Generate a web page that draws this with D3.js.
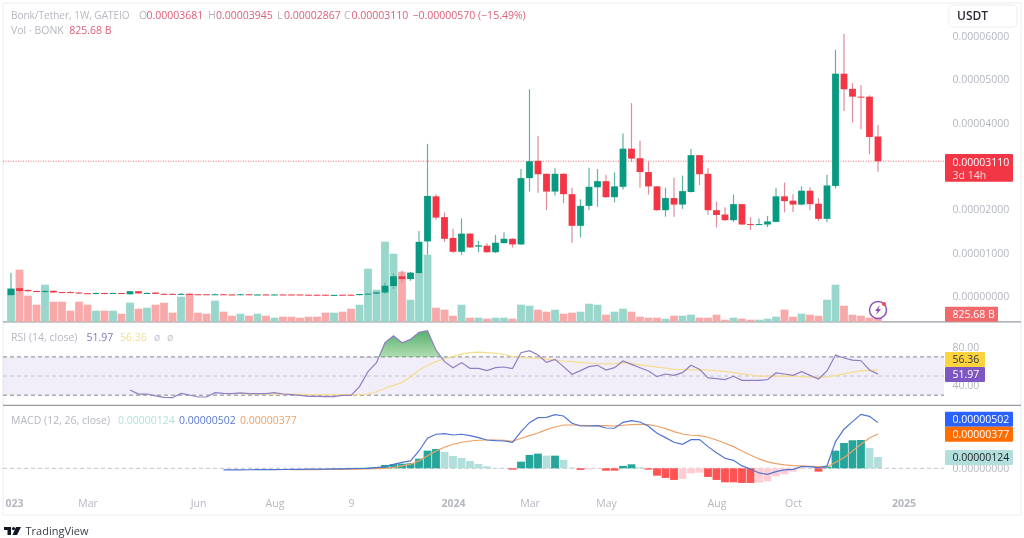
<!DOCTYPE html>
<html>
<head>
<meta charset="utf-8">
<script src="https://cdn.jsdelivr.net/npm/d3@7"></script>
<style>
  html, body { margin: 0; padding: 0; background: #fff; }
  svg { display: block; filter: blur(0.35px); }
  text { font-family: "Open Sans", "Noto Sans", sans-serif; font-size: 10.5px; }
</style>
</head>
<body>
<div id="chart"></div>
<script>
// prices are in units of 0.00001 USDT, index 0 is the first weekly candle
var openValues = [
  .02,.18,.14,.115,.10,.12,.09,.09,.08,.065,.05,.07,.055,.07,.04,.11,.06,.08,.05,.05,
  .04,.05,.04,.04,.03,.04,.035,.03,.04,.03,.035,.03,.035,.035,.035,.03,.03,.03,.015,.03,
  .03,.02,.045,.055,.08,.23,.455,.39,.53,1.26,2.3,1.82,1.34,1.02,1.44,1.14,1.16,1.01,1.22,1.32,
  1.19,2.72,3.12,2.82,2.41,2.82,2.35,1.62,2.08,2.51,2.65,2.28,2.52,3.4,3.18,2.86,2.53,1.98,2.26,2.11,
  2.4,3.25,2.82,1.98,1.88,1.75,2.12,1.66,1.65,1.65,1.71,2.3,2.2,2.11,2.43,2.13,1.78,2.54,5.13,4.78,
  4.6,4.6,3.681
];
var highValues = [
  .53,.20,.15,.125,.13,.13,.10,.105,.085,.07,.08,.075,.075,.075,.115,.115,.08,.085,.055,.055,
  .07,.055,.045,.045,.05,.045,.04,.05,.042,.04,.038,.04,.037,.037,.036,.032,.032,.032,.028,.032,
  .032,.05,.06,.095,.31,.52,.58,.56,1.5,3.51,2.35,1.93,1.55,1.79,1.45,1.27,1.22,1.41,1.47,1.33,
  2.93,4.77,3.69,2.83,2.95,2.83,2.5,2.23,2.96,2.93,2.8,2.85,3.75,4.45,3.58,3.1,2.54,2.5,2.73,2.78,
  3.39,3.26,2.95,2.18,2.05,2.34,2.13,1.82,1.79,1.85,2.49,2.62,2.35,2.53,2.51,2.26,2.8,5.68,6.05,4.91,
  4.87,4.63,3.945
];
var lowValues = [
  .01,.07,.10,.095,.08,.07,.07,.07,.05,.05,.04,.04,.05,.055,.035,.055,.05,.045,.035,.035,
  .03,.03,.03,.025,.025,.025,.02,.02,.025,.025,.025,.025,.025,.025,.025,.015,.015,.015,.01,.015,
  .012,.015,.04,.05,.06,.16,.32,.35,.52,.95,1.76,1.25,1.0,.95,1.11,1.01,1.0,.99,1.21,1.12,
  1.18,2.41,2.38,1.98,2.32,2.14,1.23,1.35,1.98,2.06,2.27,2.16,2.46,3.09,2.5,2.34,1.97,1.83,1.83,2.01,
  2.39,2.56,1.87,1.58,1.73,1.71,1.64,1.52,1.64,1.59,1.7,1.93,1.94,2.09,1.98,1.73,1.71,2.48,4.27,4.0,
  3.85,3.27,2.867
];
var closeValues = [
  .17,.115,.11,.10,.115,.08,.08,.08,.06,.055,.07,.05,.07,.06,.11,.06,.07,.05,.04,.045,
  .05,.04,.035,.035,.04,.035,.03,.04,.03,.035,.03,.035,.03,.03,.03,.02,.02,.02,.025,.02,
  .016,.045,.055,.085,.238,.455,.39,.54,1.25,2.31,1.81,1.32,1.02,1.44,1.12,1.17,1.01,1.23,1.32,1.19,
  2.72,3.11,2.81,2.41,2.82,2.35,1.62,2.08,2.52,2.65,2.28,2.53,3.4,3.17,2.86,2.53,1.98,2.26,2.11,2.42,
  3.25,2.81,1.98,1.87,1.75,2.12,1.65,1.65,1.66,1.72,2.3,2.19,2.11,2.43,2.12,1.78,2.55,5.13,4.77,4.6,
  4.58,3.67,3.11
];
// volume in billions of BONK
var volumeValues = [
  8250,13000,6500,4250,9250,5000,5000,2750,5000,4250,2750,2750,2750,2000,4750,3250,3500,4250,4750,2250,
  6250,7000,2250,2000,5250,2500,1500,2000,1500,2000,1500,1000,1250,1250,1000,1250,1250,2250,2250,2500,
  3250,4250,13250,8000,20000,17000,12500,5500,12250,16750,3500,3000,1500,4250,1000,1000,750,1000,1000,750,
  4250,4000,3000,2500,3000,2000,2250,2500,4500,4250,1750,2500,3250,2500,1250,1000,1000,750,1500,1500,
  1750,1000,1000,1750,500,1000,750,500,500,750,1250,3000,1250,2000,1750,1500,5500,9250,4000,1750,
  1500,1000,825.68
];
// RSI starts at candle 14, its moving average at candle 27
var rsiValues = [
  35.4,31.2,31.2,29.2,27.8,27.4,31.9,30.2,28.1,28.1,32.6,31.9,31.6,32.3,31.6,31.6,31.6,32.6,31.2,30.5,
  29.8,28.8,28.8,28.5,28.5,29.8,29.8,38.9,54.6,64,84.8,92.1,84.8,88.3,95.6,97.4,77.2,65,58.7,64,
  58,58,55.6,58.7,59.4,57.7,74.4,76.5,72,64.3,67.4,59.8,51.8,55.6,59.8,61.2,56.3,58.7,65.7,62.2,
  58.7,55.3,49.3,52.1,50.7,53.5,61.2,57,48,47.3,46.2,49.7,45.5,45.5,45.5,46.2,53.2,52.1,50.7,54.6,
  50.7,46.9,55.3,72,68.8,66.7,66,56.3,51.97
];
var rsiMaValues = [
  31.4,31.3,31.3,31.2,31.1,31,30.9,30.8,30.6,30.5,30.4,30.3,30.3,30.3,30.5,31.2,33.6,37.2,40.2,43.4,
  49,56.3,61,65,68,70.6,72.8,74.4,74.9,74.4,73.8,72.7,70.2,69.5,69,68.5,67.6,66.6,65.7,65,
  64.3,63.6,63,62.6,62.8,64,63,61.7,60.5,59.3,58.2,57,56.8,56.5,56.4,56.3,55.4,54.8,53.5,52.3,
  51.1,50,50,50,50,50,49.4,48.9,48.3,49.2,50.4,52.2,53.9,55.6,56,56.36
];
// MACD starts at candle 25, signal at candle 33, units of 0.000001
var macdValues = [
  -.18,-.18,-.17,-.16,-.15,-.15,-.14,-.13,-.12,-.11,-.1,-.09,-.08,-.07,-.06,-.04,-.02,0,.07,.18,
  .44,.66,.81,1.9,3.3,3.74,3.81,3.66,3.74,3.59,3.37,3.11,3.04,3,2.86,4.03,5.02,5.57,5.6,5.9,
  5.75,4.95,4.65,4.65,4.69,4.43,4.4,5.05,5.24,5.09,4.62,3.85,3.37,2.86,2.64,3.15,3.15,2.38,1.72,1.1,
  .88,.26,-.07,-.51,-.66,-.37,-.18,-.11,.18,.18,.04,.26,2.93,4.29,5.13,5.93,5.71,5.02
];
var signalValues = [
  -.15,-.15,-.14,-.14,-.13,-.12,-.11,-.1,-.08,-.06,-.04,0,.1,.26,.44,.81,1.39,1.9,
  2.31,2.64,2.86,3,3.08,3.11,3.11,3.08,2.97,3.3,3.59,3.88,4.25,4.54,4.76,4.76,4.73,4.69,4.69,4.69,
  4.65,4.73,4.8,4.84,4.8,4.62,4.36,4.03,3.77,3.63,3.59,3.41,3.11,2.75,2.38,1.9,1.47,1.03,.7,.51,
  .37,.29,.26,.22,.18,.15,.66,1.17,1.9,2.64,3.33,3.77
];
// histogram starts at candle 38
var histValues = [
  .02,.03,.04,.05,.08,.15,.37,.46,.51,.55,1.06,1.94,2.12,1.79,1.36,1.14,.81,.48,.22,.04,
  .02,-.15,.73,1.47,1.61,1.39,1.39,.92,.07,-.18,-.11,-.04,-.26,-.26,.26,.44,.11,-.15,-.81,-1.06,
  -1.28,-1.17,-.55,-.48,-.95,-1.28,-1.54,-1.54,-1.61,-1.61,-1.58,-1.43,-.88,-.66,-.37,-.07,-.02,-.37,.18,1.94,
  2.78,3.08,3.11,2.23,1.24
];
var priceTicks = [0, 1, 2, 3, 4, 5, 6];
var rsiTicks = [40, 80];
var rsiBands = [70, 50, 30];
var timeTickIndex = [0, 9, 22, 31, 40, 52, 61, 70, 83, 92, 105];
var timeTickLabels = ["2023", "Mar", "Jun", "Aug", "9", "2024", "Mar", "May", "Aug", "Oct", "2025"];
var boldTicks = ["2023", "2024", "2025"];
var rsiStart = 14, rsiMaStart = 27, macdStart = 25, signalStart = 33, histStart = 38;

var width = 1024, height = 538;
var plotLeft = 3, plotRight = 944, frameRight = 1021, frameBottom = 515;
var up = "#089981", down = "#f23645", axisGray = "#b4b7c0";

var svg = d3.select("#chart").append("svg").attr("width", width).attr("height", height);

var defs = svg.append("defs");
defs.append("clipPath").attr("id", "rsi-top-clip").append("rect")
  .attr("x", plotLeft).attr("y", 322).attr("width", plotRight - plotLeft).attr("height", 35.4);
var rsiGrad = defs.append("linearGradient").attr("id", "rsi-grad").attr("x1", 0).attr("x2", 0).attr("y1", 0).attr("y2", 1);
rsiGrad.append("stop").attr("offset", "0%").attr("stop-color", "#3fa55a").attr("stop-opacity", 0.9);
rsiGrad.append("stop").attr("offset", "50%").attr("stop-color", "#4caf50").attr("stop-opacity", 0.4);
rsiGrad.append("stop").attr("offset", "100%").attr("stop-color", "#4caf50").attr("stop-opacity", 0);

// scales, the x one is per candle
var x = d3.scaleLinear().domain([0, 102]).range([11, 878]);
var y = d3.scaleLinear().domain([0, 6]).range([296, 36]);
var yVol = d3.scaleLinear().domain([0, 20000]).range([321.7, 241.7]);
var yRsi = d3.scaleLinear().domain([40, 80]).range([385.6, 347.3]);
var yMacd = d3.scaleLinear().domain([0, 5]).range([468.3, 422.8]);

// frame and pane separators
svg.append("rect").attr("x", plotLeft).attr("y", 3).attr("width", frameRight - plotLeft).attr("height", frameBottom - 3)
  .attr("fill", "none").attr("stroke", "#eceef2");
svg.selectAll("line.sep").data([321.8, 405.3]).enter().append("line")
  .attr("class", "sep").attr("x1", plotLeft).attr("x2", frameRight)
  .attr("y1", function(d) { return d; }).attr("y2", function(d) { return d; })
  .attr("stroke", "#9a9ca3").attr("stroke-width", 1.2);

// volume
var indexes = d3.range(volumeValues.length);
svg.append("g").selectAll("rect").data(indexes).enter().append("rect")
  .attr("x", function(i) { return x(i) - 3.9; })
  .attr("width", 7.8)
  .attr("y", function(i) { return yVol(volumeValues[i]); })
  .attr("height", function(i) { return yVol(0) - yVol(volumeValues[i]); })
  .attr("fill", function(i) { return closeValues[i] >= openValues[i] ? "#99d6cb" : "#f7aaa9"; });

// last price line
svg.append("line").attr("x1", plotLeft).attr("x2", plotRight)
  .attr("y1", y(closeValues[102])).attr("y2", y(closeValues[102]))
  .attr("stroke", down).attr("stroke-opacity", 0.75).attr("stroke-dasharray", "1 1.5");

// candles
var candles = svg.append("g").selectAll("g").data(indexes).enter().append("g");
candles.append("line")
  .attr("x1", function(i) { return x(i); }).attr("x2", function(i) { return x(i); })
  .attr("y1", function(i) { return y(highValues[i]); })
  .attr("y2", function(i) { return y(lowValues[i]); })
  .attr("stroke-width", 1.2)
  .attr("stroke", function(i) { return closeValues[i] >= openValues[i] ? "#5fb3a3" : "#de8d9b"; });
candles.append("rect")
  .attr("x", function(i) { return x(i) - 3.4; })
  .attr("width", 6.8)
  .attr("y", function(i) { return y(Math.max(openValues[i], closeValues[i])); })
  .attr("height", function(i) { return Math.max(1, Math.abs(y(openValues[i]) - y(closeValues[i]))); })
  .attr("fill", function(i) { return closeValues[i] >= openValues[i] ? up : down; });

// price axis
var priceFormat = d3.format(".8f");
var priceAxis = d3.axisRight(y).tickValues(priceTicks).tickSize(0).tickPadding(0)
  .tickFormat(function(d) { return priceFormat(d / 100000); });
var priceG = svg.append("g").attr("transform", "translate(952.5,0)").call(priceAxis);
priceG.select(".domain").remove();
priceG.selectAll("text").attr("fill", axisGray);

// RSI pane
svg.append("rect").attr("x", plotLeft).attr("width", plotRight - plotLeft)
  .attr("y", yRsi(70)).attr("height", yRsi(30) - yRsi(70)).attr("fill", "#7e57c2").attr("fill-opacity", 0.1);
svg.selectAll("line.band").data(rsiBands).enter().append("line")
  .attr("class", "band").attr("x1", plotLeft).attr("x2", plotRight)
  .attr("y1", function(d) { return yRsi(d); }).attr("y2", function(d) { return yRsi(d); })
  .attr("stroke", function(d) { return d === 50 ? "#c4c4cc" : "#85858f"; })
  .attr("stroke-dasharray", "4 3");

var rsiX = function(d, i) { return x(i + rsiStart); };
svg.append("path").datum(rsiValues.slice(27, 39))
  .attr("clip-path", "url(#rsi-top-clip)")
  .attr("fill", "url(#rsi-grad)")
  .attr("d", d3.area()
    .x(function(d, i) { return x(i + rsiStart + 27); })
    .y0(yRsi(70))
    .y1(function(d) { return yRsi(d); }));
svg.append("path").datum(rsiMaValues).attr("fill", "none").attr("stroke", "#f5dd8c").attr("stroke-width", 1.2)
  .attr("d", d3.line().x(function(d, i) { return x(i + rsiMaStart); }).y(function(d) { return yRsi(d); }));
svg.append("path").datum(rsiValues).attr("fill", "none").attr("stroke", "#8f7fc2").attr("stroke-width", 1.2)
  .attr("d", d3.line().x(rsiX).y(function(d) { return yRsi(d); }));

var rsiAxis = d3.axisRight(yRsi).tickValues(rsiTicks).tickSize(0).tickPadding(0).tickFormat(d3.format(".2f"));
var rsiG = svg.append("g").attr("transform", "translate(952.5,0)").call(rsiAxis);
rsiG.select(".domain").remove();
rsiG.selectAll("text").attr("fill", axisGray);

// MACD pane
svg.append("line").attr("x1", plotLeft).attr("x2", plotRight).attr("y1", yMacd(0)).attr("y2", yMacd(0))
  .attr("stroke", "#c4c4cc").attr("stroke-dasharray", "4 3");
svg.append("g").selectAll("rect").data(histValues).enter().append("rect")
  .attr("x", function(d, i) { return x(i + histStart) - 3.9; })
  .attr("width", 7.8)
  .attr("y", function(d) { return yMacd(Math.max(d, 0)); })
  .attr("height", function(d) { return Math.abs(yMacd(d) - yMacd(0)); })
  .attr("fill", function(d, i) {
    var prev = i > 0 ? histValues[i - 1] : 0;
    if (d >= 0) return d >= prev ? "#26a69a" : "#b2dfdb";
    return d <= prev ? "#ff5252" : "#ffcdd2";
  });
svg.append("path").datum(signalValues).attr("fill", "none").attr("stroke", "#eda066").attr("stroke-width", 1.2)
  .attr("d", d3.line().x(function(d, i) { return x(i + signalStart); }).y(function(d) { return yMacd(d); }));
svg.append("path").datum(macdValues).attr("fill", "none").attr("stroke", "#4f74cf").attr("stroke-width", 1.2)
  .attr("d", d3.line().x(function(d, i) { return x(i + macdStart); }).y(function(d) { return yMacd(d); }));

var macdG = svg.append("g").attr("transform", "translate(952.5,0)")
  .call(d3.axisRight(yMacd).tickValues([0]).tickSize(0).tickPadding(0).tickFormat(function() { return "0.00000000"; }));
macdG.select(".domain").remove();
macdG.selectAll("text").attr("fill", axisGray);

// time axis
defs.append("clipPath").attr("id", "time-clip").append("rect")
  .attr("x", 5).attr("y", -10).attr("width", 1000).attr("height", 40);
var timeG = svg.append("g").attr("transform", "translate(0,499.5)").attr("clip-path", "url(#time-clip)")
  .call(d3.axisBottom(x).tickValues(timeTickIndex).tickSize(0).tickPadding(0)
    .tickFormat(function(d) { return timeTickLabels[timeTickIndex.indexOf(d)]; }));
timeG.select(".domain").remove();
timeG.selectAll("text").attr("fill", axisGray)
  .style("font-weight", function() { return boldTicks.indexOf(this.textContent) >= 0 ? "700" : "400"; });

// coloured value tags on the right
function tag(x0, y0, w, h, fill, label, color) {
  svg.append("rect").attr("x", x0).attr("y", y0).attr("width", w).attr("height", h).attr("rx", 1).attr("fill", fill);
  svg.append("text").attr("x", 952.5).attr("y", y0 + h / 2 + 3.7).attr("fill", color).text(label);
}
tag(945, 306.7, 53, 15, "#f1696b", "825.68 B", "#fff");
tag(945, 352, 40, 15, "#fbd33d", "56.36", "#33333a");
tag(945, 367, 40, 15, "#7e57c2", "51.97", "#fff");
tag(945, 411.7, 68, 15, "#2962ff", "0.00000502", "#fff");
tag(945, 426.7, 68, 15, "#ff6d00", "0.00000377", "#fff");
tag(945, 450, 68, 15, "#b2dfdb", "0.00000124", "#20242c");

// last price tag has two rows
svg.append("rect").attr("x", 945).attr("y", 154).attr("width", 68).attr("height", 27.7).attr("rx", 1).attr("fill", down);
svg.append("text").attr("x", 952.5).attr("y", 165.5).attr("fill", "#fff").text("0.00003110");
svg.append("text").attr("x", 952.5).attr("y", 178.5).attr("fill", "#ffd9dc").text("3d 14h");

// currency button
svg.append("rect").attr("x", 949).attr("y", 5).attr("width", 68).attr("height", 22).attr("rx", 4)
  .attr("fill", "#fff").attr("stroke", "#eceef2");
svg.append("text").attr("x", 957).attr("y", 20).attr("fill", "#2b2e38")
  .style("font-size", "12px").style("font-weight", "600").text("USDT");

// legends, each row is [x, text, colour]
var redText = "#dc6079", grayText = "#b4b7c0";
var legendRows = [
  [15, [[139, "O", grayText], [146.5, "0.00003681", redText],
        [208, "H", grayText], [216, "0.00003945", redText], [277, "L", grayText], [284, "0.00002867", redText],
        [344, "C", grayText], [351.5, "0.00003110", redText], [412.5, "\u22120.00000570 (\u221215.49%)", redText]]],
  [30, [[11, "Vol \u00b7 BONK", grayText], [69.3, "825.68 B", redText]]],
  [337, [[11, "RSI (14, close)", grayText], [86.5, "51.97", "#8573bd"], [120, "56.36", "#f5dd8c"],
         [154, "\u00f8", "#c4c4cc"], [167, "\u00f8", "#c4c4cc"]]],
  [420.5, [[11, "MACD (12, 26, close)", grayText], [118, "0.00000124", "#b2dfdb"],
           [179, "0.00000502", "#5a79c9"], [240, "0.00000377", "#eda066"]]]
];
legendRows.forEach(function(row) {
  row[1].forEach(function(item) {
    svg.append("text").attr("x", item[0]).attr("y", row[0] + 3.5).attr("fill", item[2]).text(item[1]);
  });
});
svg.append("text").attr("x", 11).attr("y", 18.5).attr("fill", grayText)
  .style("font-size", "10px").text("Bonk/Tether, 1W, GATEIO");

// lightning badge over the last volume bars
var badge = svg.append("g").attr("transform", "translate(878,310)");
badge.append("circle").attr("r", 8.5).attr("fill", "#fff").attr("fill-opacity", 0.6)
  .attr("stroke", "#8e4fb8").attr("stroke-width", 1.5);
badge.append("path").attr("d", "M2,-5 L-3,1 L-0.5,1 L-2,5 L3,-1 L0.5,-1 Z").attr("fill", "#8e4fb8");
badge.append("circle").attr("cx", 6).attr("cy", -6).attr("r", 2).attr("fill", "#ef4a5c");

// TradingView wordmark
var logo = svg.append("g").attr("transform", "translate(4,527)").attr("fill", "#131722");
logo.append("path").attr("d", "M0,0 H7 V8 H3.5 V3 H0 Z");
logo.append("circle").attr("cx", 9.5).attr("cy", 1.6).attr("r", 1.6);
logo.append("path").attr("d", "M12,0 H17 L13,8 H8.5 Z");
svg.append("text").attr("x", 25.5).attr("y", 534.5).attr("fill", "#3a3d47")
  .style("font-size", "11px").text("TradingView");
</script>
</body>
</html>
